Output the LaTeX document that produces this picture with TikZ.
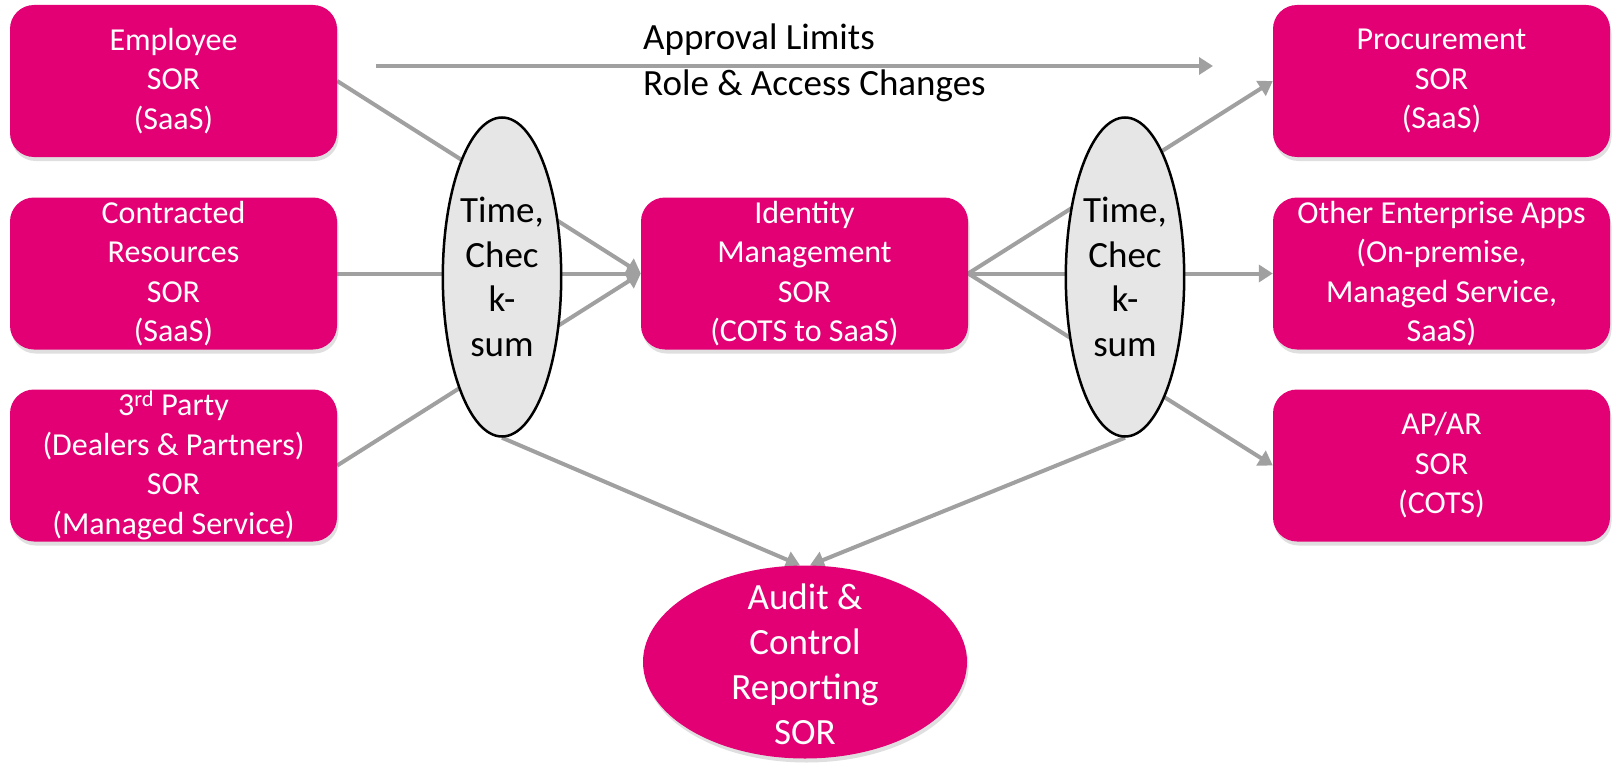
\documentclass[tikz,border=0pt]{standalone}
\usepackage{fontspec}
\setmainfont{Carlito}
\usetikzlibrary{shapes.geometric,arrows.meta,shadows}
\pgfdeclarelayer{back}
\pgfdeclarelayer{bg}
\pgfsetlayers{back,bg,main}
\definecolor{mag}{HTML}{E20074}
\definecolor{lgray}{HTML}{A0A0A0}
\definecolor{ellgray}{HTML}{E7E6E6}
\begin{document}
\begin{tikzpicture}[x=1pt,y=-1pt,
 sorbox/.style={rectangle, rounded corners=24pt, fill=mag, text=white, minimum width=327pt, minimum height=152pt, inner sep=0pt, align=center, font=\fontsize{32}{39.5}\selectfont, drop shadow={shadow xshift=1.5pt, shadow yshift=-4pt, opacity=0.25}},
 rbox/.style={sorbox, minimum width=337pt},
 chk/.style={ellipse, draw=black, line width=2.5pt, fill=ellgray, minimum width=118pt, minimum height=319pt, inner sep=0pt, align=center, font=\fontsize{37}{44.5}\selectfont},
 audit/.style={ellipse, fill=mag, minimum width=324pt, minimum height=193pt, inner sep=0pt, drop shadow={shadow xshift=1.5pt, shadow yshift=-4pt, opacity=0.25}},
 audtext/.style={text=white, inner sep=0pt, align=center, font=\fontsize{37}{45}\selectfont},
 flow/.style={draw=lgray, line width=4pt, -{Triangle[length=14pt,width=17pt]}},
 lbl/.style={font=\fontsize{37}{44.5}\selectfont, anchor=west, inner sep=0pt}]
\begin{pgfonlayer}{back}
\fill[white] (0,0) rectangle (1612,768);
\end{pgfonlayer}
\useasboundingbox (0,0) rectangle (1612,768);

\node[sorbox] (emp) at (173.5,81) {Employee\\SOR\\(SaaS)};
\node[sorbox] (con) at (173.5,273.5) {Contracted\\Resources\\SOR\\(SaaS)};
\node[sorbox] (trd) at (173.5,465.5) {3\textsuperscript{rd} Party\\(Dealers \& Partners)\\SOR\\(Managed Service)};
\node[sorbox] (idm) at (804.5,273.5) {Identity\\Management\\SOR\\(COTS to SaaS)};
\node[rbox] (pro) at (1441.5,81) {Procurement\\SOR\\(SaaS)};
\node[rbox] (oth) at (1441.5,273.5) {Other Enterprise Apps\\(On-premise,\\Managed Service,\\SaaS)};
\node[rbox] (apa) at (1441.5,465.5) {AP/AR\\SOR\\(COTS)};

\node[chk] (lchk) at (502,277) {Time,\\Chec\\k-\\sum};
\node[chk] (rchk) at (1125,277) {Time,\\Chec\\k-\\sum};

\node[audit] (aud) at (805,662) {};
\node[audtext] (audt) at (805,664) {Audit \&\\Control\\Reporting\\SOR};

\coordinate (tl) at (376,66);
\coordinate (tr) at (1213,66);
\node[lbl] (al) at (643,40) {Approval Limits};
\node[lbl] (rl) at (643,86) {Role \& Access Changes};

\begin{pgfonlayer}{bg}
\draw[flow] (tl) -- (tr);
\draw[flow] (emp.east) -- (idm.west);
\draw[flow] (con.east) -- (idm.west);
\draw[flow] (trd.east) -- (idm.west);
\draw[flow] (idm.east) -- (pro.west);
\draw[flow] (idm.east) -- (oth.west);
\draw[flow] (idm.east) -- (apa.west);
\draw[flow] (lchk.south) -- ([xshift=-5pt]aud.north);
\draw[flow] (rchk.south) -- ([xshift=5pt]aud.north);
\end{pgfonlayer}
\end{tikzpicture}
\end{document}
